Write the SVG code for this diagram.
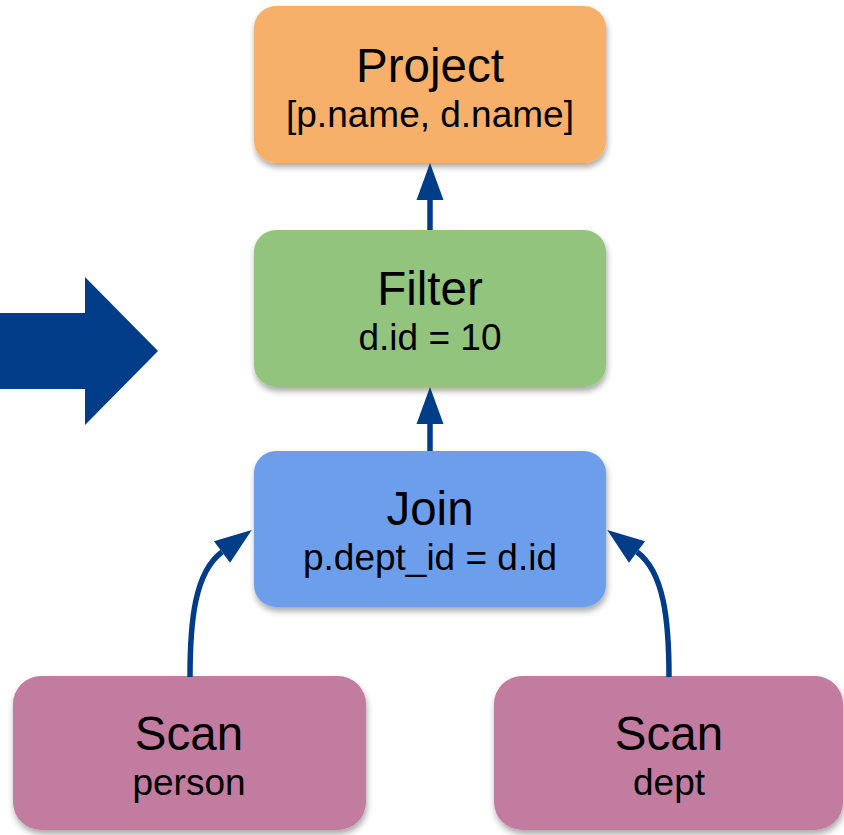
<svg xmlns="http://www.w3.org/2000/svg" width="844" height="835" viewBox="0 0 844 835">
<defs>
<style>
.box{stroke:none;filter:url(#sh)}
.t1{font-family:"Liberation Sans",Arial,sans-serif;font-size:47.5px;fill:#000;text-anchor:middle}
.t2{font-family:"Liberation Sans",Arial,sans-serif;font-size:37px;fill:#000;text-anchor:middle}
.edge{fill:none;stroke:#003C88;stroke-width:5.5}
</style>
<filter id="sh" x="-10%" y="-10%" width="120%" height="130%">
<feDropShadow dx="1" dy="4" stdDeviation="3" flood-color="#000" flood-opacity="0.35"/>
</filter>
<marker id="ah" markerUnits="userSpaceOnUse" markerWidth="40" markerHeight="30" refX="0" refY="0" orient="auto" viewBox="0 -15 40 30" overflow="visible">
<path d="M0,-13.5 L37,0 L0,13.5 z" fill="#003C88"/>
</marker>
</defs>
<rect width="844" height="835" fill="#fff"/>
<polygon points="0,313 85,313 85,277 158,351 85,425 85,389 0,389" fill="#003C88"/>
<g id="project">
<rect class="box" x="254" y="6" width="352" height="157" rx="22" fill="#F6B06B"/>
<text class="t1" x="430" y="82">Project</text>
<text class="t2" x="430" y="127">[p.name, d.name]</text>
</g>
<g id="filter">
<rect class="box" x="254" y="230" width="352" height="157" rx="22" fill="#93C47D"/>
<text class="t1" x="430" y="305">Filter</text>
<text class="t2" x="430" y="350">d.id = 10</text>
</g>
<g id="join">
<rect class="box" x="254" y="451" width="352" height="156" rx="22" fill="#6D9EEB"/>
<text class="t1" x="430" y="525">Join</text>
<text class="t2" x="430" y="570">p.dept_id = d.id</text>
</g>
<g id="scan-person">
<rect class="box" x="13" y="676" width="353" height="154" rx="28" fill="#C27BA0"/>
<text class="t1" x="189" y="750">Scan</text>
<text class="t2" x="189" y="795">person</text>
</g>
<g id="scan-dept">
<rect class="box" x="494" y="676" width="349" height="154" rx="28" fill="#C27BA0"/>
<text class="t1" x="669" y="750">Scan</text>
<text class="t2" x="669" y="795">dept</text>
</g>
<g id="connectors">
<path class="edge" d="M430,230 L430,200" marker-end="url(#ah)"/>
<path class="edge" d="M430,451 L430,424" marker-end="url(#ah)"/>
<path class="edge" d="M190,677 C190,620 195,572 222,552" marker-end="url(#ah)"/>
<path class="edge" d="M669,677 C669,620 664,572 637,552" marker-end="url(#ah)"/>
</g>
</svg>
